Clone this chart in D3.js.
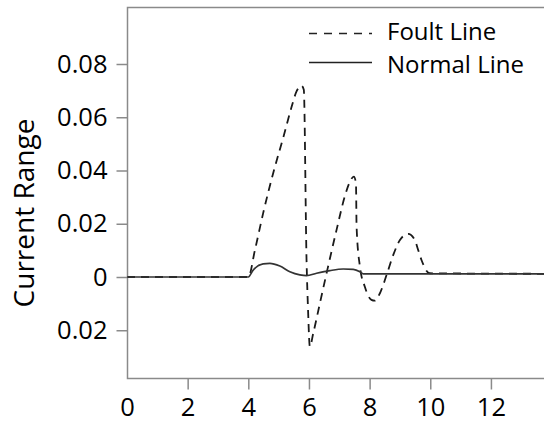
<!DOCTYPE html>
<html>
<head>
<meta charset="utf-8">
<script src="https://cdn.jsdelivr.net/npm/d3@7"></script>
<style>
body { margin: 0; background: #fff; }
text { font-family: "Open Sans", "Noto Sans", sans-serif; fill: #000; }
</style>
</head>
<body>
<svg id="chart" width="544" height="423"></svg>
<script>
// time (x) and current (y)
var faultX = [0, 4.0, 4.22, 4.49, 4.82, 5.16, 5.43, 5.59, 5.76, 5.83, 5.92, 5.97, 6.03, 6.14, 6.36, 6.63, 6.91, 7.18, 7.35, 7.48, 7.55, 7.57, 7.68, 7.84, 8.06, 8.17, 8.34, 8.56, 8.78, 9.0, 9.27, 9.49, 9.6, 9.71, 9.98, 13.75];
var faultY = [0, 0, 0.0102, 0.024, 0.039, 0.0527, 0.064, 0.0697, 0.0718, 0.0703, 0.0064, -0.0124, -0.0262, -0.0212, -0.0099, 0.0039, 0.0177, 0.0302, 0.0358, 0.0377, 0.0352, 0.0189, 0.0039, -0.0036, -0.0086, -0.0089, -0.0061, 0.0008, 0.0083, 0.0139, 0.0162, 0.0139, 0.0102, 0.0064, 0.0014, 0.0012];
var normalX = [0, 4.0, 4.16, 4.49, 4.71, 5.04, 5.37, 5.7, 5.92, 6.25, 6.69, 7.13, 7.46, 7.68, 7.79, 13.75];
var normalY = [0, 0, 0.0026, 0.0049, 0.0051, 0.0041, 0.002, 0.0008, 0.0005, 0.0014, 0.0024, 0.003, 0.0029, 0.002, 0.0012, 0.0012];
var xTicks = [0, 2, 4, 6, 8, 10, 12];
var yTicks = [-0.02, 0, 0.02, 0.04, 0.06, 0.08];
var legendNames = ["Foult Line", "Normal Line"];

var svg = d3.select("#chart");
var frameL = 127.5, frameR = 560, frameT = 7.5, frameB = 378.5;

var x = d3.scaleLinear().domain([0, 13.75]).range([127, 544]);
var y = d3.scaleLinear().domain([0, 0.08]).range([277, 64]);

svg.append("clipPath").attr("id", "clip").append("rect")
	.attr("x", frameL).attr("y", frameT).attr("width", frameR - frameL).attr("height", frameB - frameT);

// axes
var xAxis = svg.append("g").attr("transform", "translate(0," + frameB + ")")
	.call(d3.axisBottom(x).tickValues(xTicks).tickSize(11).tickPadding(8).tickFormat(d3.format("d")));
var yAxis = svg.append("g").attr("transform", "translate(" + frameL + ",0)")
	.call(d3.axisLeft(y).tickValues(yTicks).tickSize(11).tickPadding(9).tickFormat(function (d) {
		return d == 0 ? "0" : d3.format(".2f")(Math.abs(d));
	}));
[xAxis, yAxis].forEach(function (a) {
	a.select(".domain").remove();
	a.selectAll(".tick line").attr("stroke", "#8a8a8a").attr("stroke-width", 1.5);
	a.selectAll(".tick text").style("font-size", "25.5px").attr("fill", "#000");
});
xAxis.selectAll(".tick").filter(function (d) { return d == 0; }).select("line").remove();

// frame
svg.append("path").attr("fill", "none").attr("stroke", "#8a8a8a").attr("stroke-width", 1.5)
	.attr("d", "M" + frameR + "," + frameT + "H" + frameL + "V" + frameB + "H" + frameR);

var line = d3.line().x(function (d) { return x(d[0]); }).y(function (d) { return y(d[1]); }).curve(d3.curveMonotoneX);
var plot = svg.append("g").attr("clip-path", "url(#clip)");
plot.append("path").datum(d3.zip(faultX, faultY)).attr("d", line)
	.attr("fill", "none").attr("stroke", "#1a1a1a").attr("stroke-width", 1.8).attr("stroke-dasharray", "8,6");
plot.append("path").datum(d3.zip(normalX, normalY)).attr("d", line)
	.attr("fill", "none").attr("stroke", "#333").attr("stroke-width", 1.7);

// y label
svg.append("text").attr("transform", "translate(34,213) rotate(-90)").attr("text-anchor", "middle")
	.style("font-size", "28px").text("Current Range");

// legend
var legend = svg.append("g").selectAll("g").data(legendNames).enter().append("g");
legend.append("line").attr("x1", 309).attr("x2", 372)
	.attr("y1", function (d, i) { return 33.5 + i * 29; }).attr("y2", function (d, i) { return 33.5 + i * 29; })
	.attr("stroke", "#222").attr("stroke-width", 1.6)
	.attr("stroke-dasharray", function (d, i) { return i == 0 ? "8,7" : null; });
legend.append("text").attr("x", 387).attr("y", function (d, i) { return 40 + i * 32.5; })
	.style("font-size", "24px").text(function (d) { return d; });
</script>
</body>
</html>
